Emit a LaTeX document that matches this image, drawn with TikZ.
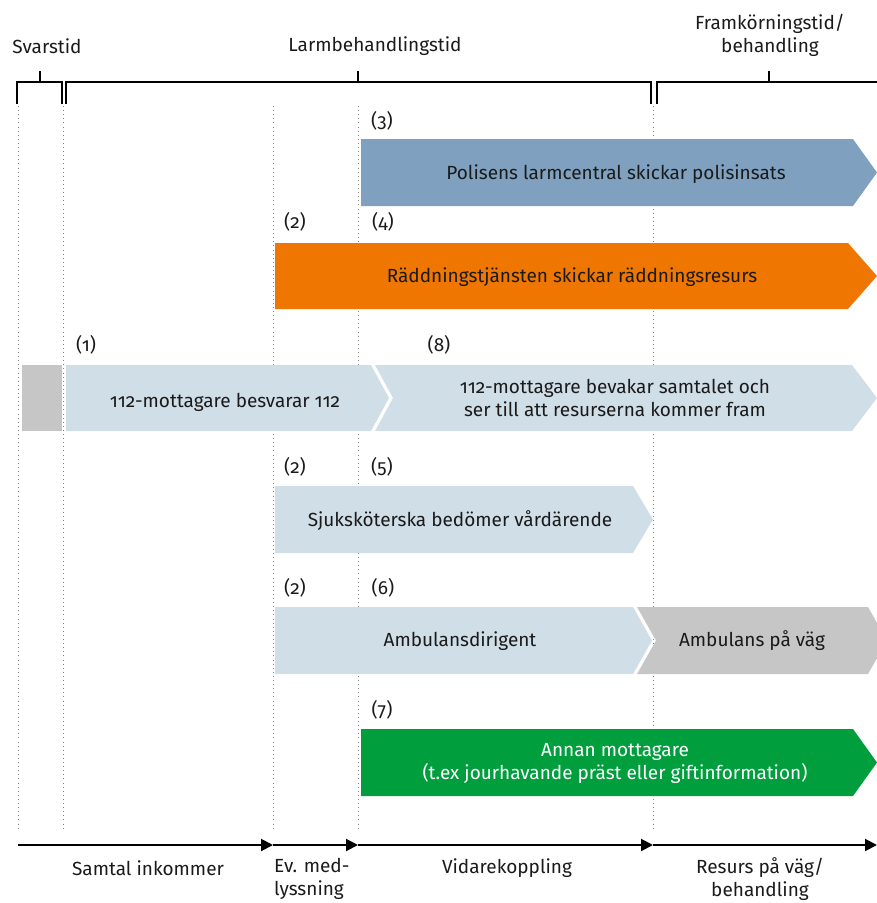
\documentclass[tikz,border=0pt]{standalone}
\usepackage{fontspec}
\setmainfont{Fira Sans}[Numbers=OldStyle]
\usetikzlibrary{arrows.meta}
\definecolor{cPol}{HTML}{7FA1BF}
\definecolor{cOra}{HTML}{EE7601}
\definecolor{cLb}{HTML}{D0DEE8}
\definecolor{cGr}{HTML}{C6C6C6}
\definecolor{cGn}{HTML}{009E3D}
\definecolor{cTx}{HTML}{1A1A1A}
\definecolor{cDot}{HTML}{808080}
\begin{document}
\begin{tikzpicture}[x=1pt,y=-1pt,
  lbl/.style={font=\fontsize{19}{23}\selectfont, inner sep=0pt, text=cTx, align=center},
  bartxt/.style={lbl},
  wtxt/.style={lbl, text=white},
  num/.style={lbl},
  dotv/.style={cDot, line width=0.9pt, dash pattern=on 0.9pt off 3.2pt},
  brk/.style={black, line width=1.2pt},
  axisarrow/.style={black, line width=2pt, -{Triangle[length=12pt,width=12pt]}},
]
\useasboundingbox (0,0) rectangle (877,903);
\clip (0,0) rectangle (877,903);

% top labels
\node[lbl] (svar) at (47,46) {Svarstid};
\node[lbl] (larm) at (375,46) {Larmbehandlingstid};
\node[lbl] (fram) at (770,35) {Framkörningstid/\\behandling};

% brackets
\draw[brk] (17,104) -- (17,82) -- (62,82) -- (62,104);
\draw[brk] (40,82) -- (40,71);
\draw[brk] (66,104) -- (66,82) -- (651,82) -- (651,104);
\draw[brk] (358,82) -- (358,71);
\draw[brk] (657,104) -- (657,82) -- (880,82);
\draw[brk] (769,82) -- (769,71);

% dotted guide lines
\foreach \xx in {18,63,273,358,653}{
  \draw[dotv] (\xx,106) -- (\xx,830);
}

% bar 3
\fill[cPol] (361,139) -- (853,139) -- (877,172.5) -- (853,206) -- (361,206) -- cycle;
\node[bartxt] (t3) at (616,174) {Polisens larmcentral skickar polisinsats};
\node[num] (n3) at (382,121) {(3)};

% bar 4
\fill[cOra] (275,243) -- (848,243) -- (877,276) -- (848,309) -- (275,309) -- cycle;
\node[bartxt] (t4) at (572,277) {Räddningstjänsten skickar räddningsresurs};
\node[num] (n2a) at (295,222) {(2)};
\node[num] (n4) at (383,222) {(4)};

% row 1/8
\fill[cGr] (22,365) rectangle (62,431);
\fill[cLb] (66,365) -- (371,365) -- (389,398) -- (371,431) -- (66,431) -- cycle;
\fill[cLb] (375,365) -- (852,365) -- (877,398) -- (852,431) -- (375,431) -- (393,398) -- cycle;
\node[bartxt] (t1) at (225,402) {112-mottagare besvarar 112};
\node[bartxt] (t8) at (615,398) {112-mottagare bevakar samtalet och\\ser till att resurserna kommer fram};
\node[num] (n1) at (86,345) {(1)};
\node[num] (n8) at (439,345) {(8)};

% bar 5
\fill[cLb] (275,486) -- (633,486) -- (653,519.5) -- (633,553) -- (275,553) -- cycle;
\node[bartxt] (t5) at (460,521) {Sjuksköterska bedömer vårdärende};
\node[num] (n2b) at (295,467) {(2)};
\node[num] (n5) at (382,467) {(5)};

% bar 6
\fill[cLb] (275,607) -- (633,607) -- (652,640.5) -- (633,674) -- (275,674) -- cycle;
\fill[cGr] (637,607) -- (868,607) -- (887,640.5) -- (868,674) -- (637,674) -- (656,640.5) -- cycle;
\node[bartxt] (t6) at (460,641) {Ambulansdirigent};
\node[bartxt] (t6b) at (752,641) {Ambulans på väg};
\node[num] (n2c) at (295,588) {(2)};
\node[num] (n6) at (383,588) {(6)};

% bar 7
\fill[cGn] (361,729) -- (853,729) -- (877,762.5) -- (853,796) -- (361,796) -- cycle;
\node[wtxt] (t7) at (615,763) {Annan mottagare\\(t.ex jourhavande präst eller giftinformation)};
\node[num] (n7) at (382,710) {(7)};

% bottom axis
\coordinate (a0) at (18,845);
\coordinate (a1) at (273,845);
\coordinate (a2) at (358,845);
\coordinate (a3) at (653,845);
\coordinate (a4) at (877,845);
\draw[axisarrow] (a0) -- (a1);
\draw[axisarrow] (a1) -- (a2);
\draw[axisarrow] (a2) -- (a3);
\draw[axisarrow] (a3) -- (a4);

\node[lbl] (b1) at (148,868) {Samtal inkommer};
\node[lbl, align=left, anchor=west] (b2) at (274,879) {Ev. med-\\lyssning};
\node[lbl] (b3) at (507,868) {Vidarekoppling};
\node[lbl] (b4) at (760,879) {Resurs på väg/\\behandling};
\end{tikzpicture}
\end{document}
